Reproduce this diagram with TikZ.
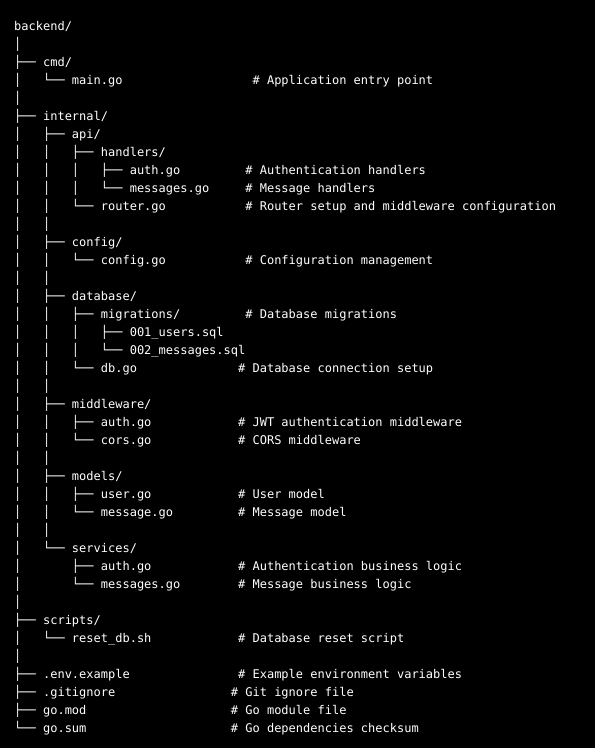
\documentclass[tikz,border=0pt]{standalone}
\usepackage{fontspec}
\usepackage{tikz}
\newfontfamily\treefont{DejaVu Sans Mono}
\def\cw{7.224}
\tikzset{
	ln/.style={anchor=base west, inner sep=0pt, text=white, font=\treefont\fontsize{12pt}{14pt}\selectfont},
	cmt/.style={ln}
}

\begin{document}
\begin{tikzpicture}[x=1pt, y=1pt]
			%%%%% START %%%%%
			
			\fill[black] (0, 0) rectangle (595, -748);
			\useasboundingbox (0, 0) rectangle (595, -748);
			
			\node[ln] (r0) at (14, -30) {backend/};
			\node[ln] (r1) at (14, -48) {│};
			\node[ln] (r2) at (14, -66) {├──~cmd/};
			\node[ln] (r3) at (14, -84) {│~~~└──~main.go};
			\node[cmt] (c3) at (14+33*\cw, -84) {\# Application entry point};
			\node[ln] (r4) at (14, -102) {│};
			
			\node[ln] (r5) at (14, -120) {├──~internal/};
			\node[ln] (r6) at (14, -138) {│~~~├──~api/};
			\node[ln] (r7) at (14, -156) {│~~~│~~~├──~handlers/};
			\node[ln] (r8) at (14, -174) {│~~~│~~~│~~~├──~auth.go};
			\node[cmt] (c8) at (14+32*\cw, -174) {\# Authentication handlers};
			\node[ln] (r9) at (14, -192) {│~~~│~~~│~~~└──~messages.go};
			\node[cmt] (c9) at (14+32*\cw, -192) {\# Message handlers};
			\node[ln] (r10) at (14, -210) {│~~~│~~~└──~router.go};
			\node[cmt] (c10) at (14+32*\cw, -210) {\# Router setup and middleware configuration};
			\node[ln] (r11) at (14, -228) {│~~~│};
			
			\node[ln] (r12) at (14, -246) {│~~~├──~config/};
			\node[ln] (r13) at (14, -264) {│~~~│~~~└──~config.go};
			\node[cmt] (c13) at (14+32*\cw, -264) {\# Configuration management};
			\node[ln] (r14) at (14, -282) {│~~~│};
			
			\node[ln] (r15) at (14, -300) {│~~~├──~database/};
			\node[ln] (r16) at (14, -318) {│~~~│~~~├──~migrations/};
			\node[cmt] (c16) at (14+32*\cw, -318) {\# Database migrations};
			\node[ln] (r17) at (14, -336) {│~~~│~~~│~~~├──~001\_users.sql};
			\node[ln] (r18) at (14, -354) {│~~~│~~~│~~~└──~002\_messages.sql};
			\node[ln] (r19) at (14, -372) {│~~~│~~~└──~db.go};
			\node[cmt] (c19) at (14+31*\cw, -372) {\# Database connection setup};
			\node[ln] (r20) at (14, -390) {│~~~│};
			
			\node[ln] (r21) at (14, -408) {│~~~├──~middleware/};
			\node[ln] (r22) at (14, -426) {│~~~│~~~├──~auth.go};
			\node[cmt] (c22) at (14+31*\cw, -426) {\# JWT authentication middleware};
			\node[ln] (r23) at (14, -444) {│~~~│~~~└──~cors.go};
			\node[cmt] (c23) at (14+31*\cw, -444) {\# CORS middleware};
			\node[ln] (r24) at (14, -462) {│~~~│};
			
			\node[ln] (r25) at (14, -480) {│~~~├──~models/};
			\node[ln] (r26) at (14, -498) {│~~~│~~~├──~user.go};
			\node[cmt] (c26) at (14+31*\cw, -498) {\# User model};
			\node[ln] (r27) at (14, -516) {│~~~│~~~└──~message.go};
			\node[cmt] (c27) at (14+31*\cw, -516) {\# Message model};
			\node[ln] (r28) at (14, -534) {│~~~│};
			
			\node[ln] (r29) at (14, -552) {│~~~└──~services/};
			\node[ln] (r30) at (14, -570) {│~~~~~~~├──~auth.go};
			\node[cmt] (c30) at (14+31*\cw, -570) {\# Authentication business logic};
			\node[ln] (r31) at (14, -588) {│~~~~~~~└──~messages.go};
			\node[cmt] (c31) at (14+31*\cw, -588) {\# Message business logic};
			\node[ln] (r32) at (14, -606) {│};
			
			\node[ln] (r33) at (14, -624) {├──~scripts/};
			\node[ln] (r34) at (14, -642) {│~~~└──~reset\_db.sh};
			\node[cmt] (c34) at (14+31*\cw, -642) {\# Database reset script};
			\node[ln] (r35) at (14, -660) {│};
			
			\node[ln] (r36) at (14, -678) {├──~.env.example};
			\node[cmt] (c36) at (14+31*\cw, -678) {\# Example environment variables};
			\node[ln] (r37) at (14, -696) {├──~.gitignore};
			\node[cmt] (c37) at (14+30*\cw, -696) {\# Git ignore file};
			\node[ln] (r38) at (14, -714) {├──~go.mod};
			\node[cmt] (c38) at (14+30*\cw, -714) {\# Go module file};
			\node[ln] (r39) at (14, -732) {└──~go.sum};
			\node[cmt] (c39) at (14+30*\cw, -732) {\# Go dependencies checksum};
			
			%%%%% END %%%%%
\end{tikzpicture}
\end{document}
